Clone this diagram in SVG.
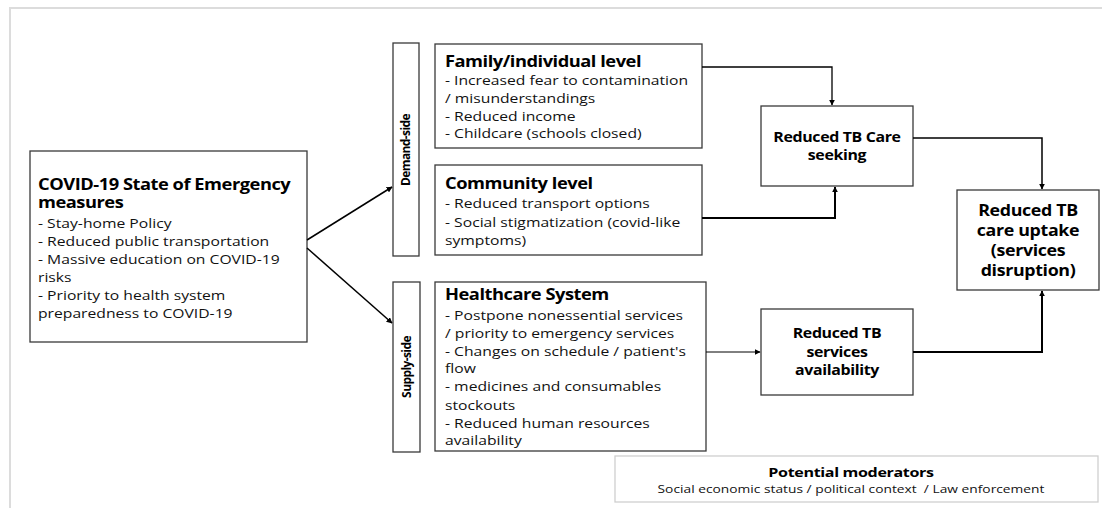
<svg xmlns="http://www.w3.org/2000/svg" width="1102" height="508" viewBox="0 0 1102 508">
<style>
.bx{fill:#fff;stroke:#3a3a3a;stroke-width:1.3}
.t{font-family:"Open Sans","Liberation Sans",sans-serif;font-size:13.3px;fill:#111}
.h{font-family:"Open Sans","Liberation Sans",sans-serif;font-size:15.5px;font-weight:bold;fill:#000;letter-spacing:-0.4px}
.c{font-family:"Open Sans","Liberation Sans",sans-serif;font-weight:bold;fill:#000;text-anchor:middle;letter-spacing:-0.3px}
.v{font-family:"Open Sans","Liberation Sans",sans-serif;font-size:12px;font-weight:bold;fill:#000;text-anchor:middle;letter-spacing:-0.6px}
.ln{fill:none;stroke:#000}
</style>
<defs>
<marker id="ar" viewBox="0 0 10 10" refX="9" refY="5" markerWidth="6" markerHeight="6" markerUnits="userSpaceOnUse" orient="auto">
<path d="M0,0 L10,5 L0,10 z" fill="#000"/>
</marker>
</defs>
<rect width="1102" height="508" fill="#fff"/>
<path d="M10,508 L10,8 L1102,8" fill="none" stroke="#dcdcdc" stroke-width="2"/>

<g id="covid">
<rect class="bx" x="30" y="151" width="277" height="191"/>
<g transform="translate(38,0) scale(1.18,1)">
<text class="h" x="0" y="190">COVID-19 State of Emergency</text>
<text class="h" x="0" y="208">measures</text>
<text class="t" x="0" y="228">- Stay-home Policy</text>
<text class="t" x="0" y="246">- Reduced public transportation</text>
<text class="t" x="0" y="264">- Massive education on COVID-19</text>
<text class="t" x="0" y="282">risks</text>
<text class="t" x="0" y="300">- Priority to health system</text>
<text class="t" x="0" y="318">preparedness to COVID-19</text>
</g>
</g>

<g id="demand">
<rect class="bx" x="393" y="43" width="26" height="213"/>
<text class="v" transform="translate(410,150) rotate(-90)">Demand-side</text>
</g>

<g id="supply">
<rect class="bx" x="393" y="282" width="27" height="170"/>
<text class="v" transform="translate(411,367) rotate(-90)">Supply-side</text>
</g>

<g id="family">
<rect class="bx" x="435" y="44" width="267" height="104"/>
<g transform="translate(445,0) scale(1.18,1)">
<text class="h" x="0" y="67">Family/individual level</text>
<text class="t" x="0" y="85">- Increased fear to contamination</text>
<text class="t" x="0" y="103">/ misunderstandings</text>
<text class="t" x="0" y="121">- Reduced income</text>
<text class="t" x="0" y="138">- Childcare (schools closed)</text>
</g>
</g>

<g id="community">
<rect class="bx" x="435" y="165" width="267" height="90"/>
<g transform="translate(445,0) scale(1.18,1)">
<text class="h" x="0" y="189">Community level</text>
<text class="t" x="0" y="208">- Reduced transport options</text>
<text class="t" x="0" y="227">- Social stigmatization (covid-like</text>
<text class="t" x="0" y="245">symptoms)</text>
</g>
</g>

<g id="healthcare">
<rect class="bx" x="435" y="282" width="271" height="169"/>
<g transform="translate(445,0) scale(1.18,1)">
<text class="h" x="0" y="300">Healthcare System</text>
<text class="t" x="0" y="320">- Postpone nonessential services</text>
<text class="t" x="0" y="338">/ priority to emergency services</text>
<text class="t" x="0" y="356">- Changes on schedule / patient's</text>
<text class="t" x="0" y="373">flow</text>
<text class="t" x="0" y="391">- medicines and consumables</text>
<text class="t" x="0" y="410">stockouts</text>
<text class="t" x="0" y="428">- Reduced human resources</text>
<text class="t" x="0" y="445">availability</text>
</g>
</g>

<g id="seeking">
<rect class="bx" x="761" y="106" width="152" height="80"/>
<g transform="translate(837,0) scale(1.18,1)">
<text class="c" x="0" y="142" font-size="13.5">Reduced TB Care</text>
<text class="c" x="0" y="160" font-size="13.5">seeking</text>
</g>
</g>

<g id="availability">
<rect class="bx" x="761" y="309" width="152" height="86"/>
<g transform="translate(837,0) scale(1.18,1)">
<text class="c" x="0" y="338" font-size="13.5">Reduced TB</text>
<text class="c" x="0" y="357" font-size="13.5">services</text>
<text class="c" x="0" y="375" font-size="13.5">availability</text>
</g>
</g>

<g id="uptake">
<rect class="bx" x="957" y="190" width="142" height="100"/>
<g transform="translate(1028,0) scale(1.15,1)">
<text class="c" x="0" y="216" font-size="15.5">Reduced TB</text>
<text class="c" x="0" y="236" font-size="15.5">care uptake</text>
<text class="c" x="0" y="256" font-size="15.5">(services</text>
<text class="c" x="0" y="276" font-size="15.5">disruption)</text>
</g>
</g>

<g id="moderators">
<rect x="615" y="456" width="483" height="46" fill="#fff" stroke="#cfcfcf" stroke-width="1.3"/>
<g transform="translate(851,0) scale(1.22,1)">
<text class="c" x="0" y="477" font-size="13.2">Potential moderators</text>
<text x="0" y="493" font-family="'Open Sans','Liberation Sans',sans-serif" font-size="11.3" fill="#111" text-anchor="middle" style="white-space:pre">Social economic status / political context  / Law enforcement</text>
</g>
</g>

<g id="connectors">
<path class="ln" stroke-width="1.5" d="M307,240 L392,187" marker-end="url(#ar)"/>
<path class="ln" stroke-width="1.5" d="M307,248 L392,323" marker-end="url(#ar)"/>
<path class="ln" stroke-width="1.3" d="M702,67 L832,67 L832,105" marker-end="url(#ar)"/>
<path class="ln" stroke-width="2" d="M702,218 L835,218 L835,187" marker-end="url(#ar)"/>
<path class="ln" stroke-width="1.5" d="M913,138 L1042,138 L1042,189" marker-end="url(#ar)"/>
<path class="ln" stroke-width="1" d="M706,352 L760,352" marker-end="url(#ar)"/>
<path class="ln" stroke-width="2" d="M913,352 L1042,352 L1042,291" marker-end="url(#ar)"/>
</g>
</svg>
